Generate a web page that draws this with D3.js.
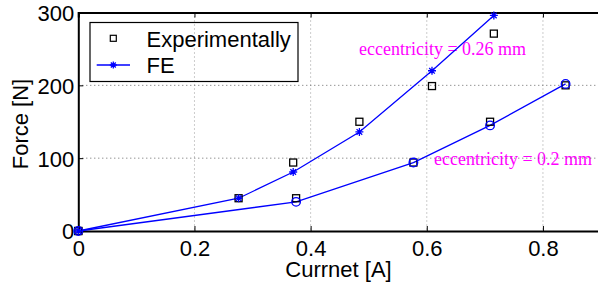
<!DOCTYPE html>
<html><head><meta charset="utf-8">
<script src="https://cdn.jsdelivr.net/npm/d3@7"></script>
<style>body{margin:0;background:#fff}svg{display:block}</style>
</head><body>
<script>
// Data
const xTicks = [0, 0.2, 0.4, 0.6, 0.8];
const yTicks = [0, 100, 200, 300];
const exp026Current = [0, 0.276, 0.37, 0.484, 0.609, 0.7155];
const exp026Force   = [0, 45, 94, 150, 199, 271];
const exp02Current  = [0, 0.375, 0.577, 0.709, 0.839];
const exp02Force    = [0, 45, 94, 150, 200];
const fe026Current  = [0, 0.276, 0.37, 0.484, 0.609, 0.7155];
const fe026Force    = [0, 45, 81, 136, 220, 296];
const fe02Current   = [0, 0.375, 0.577, 0.709, 0.839];
const fe02Force     = [0, 40, 94, 145, 202];
const legendLabels  = ["Experimentally", "FE"];
const annotations   = ["eccentricity = 0.26 mm", "eccentricity = 0.2 mm"];

const W = 598, H = 285;
const svg = d3.select("body").append("svg").attr("width", W).attr("height", H);
const x = d3.scaleLinear().domain([0, 0.9]).range([78.3, 601]);
const y = d3.scaleLinear().domain([0, 300]).range([231, 12.5]);
const sans = "'Liberation Sans', Arial, sans-serif";
const serif = "'Liberation Serif', 'Times New Roman', serif";
const blue = "#0000ff";
const fs = 22;

// annotations (under grid)
svg.selectAll("text.ann").data(annotations).join("text")
  .attr("class", "ann")
  .attr("font-family", serif).attr("font-size", 18).attr("fill", "#ff00ff")
  .attr("x", (d, i) => i === 0 ? 359 : 434)
  .attr("y", (d, i) => i === 0 ? 55 : 165)
  .text(d => d);

// grid
const g = svg.append("g");
g.selectAll("line.vg").data(xTicks.slice(1)).join("line")
  .attr("x1", d => x(d)).attr("x2", d => x(d))
  .attr("y1", y(300)).attr("y2", y(0))
  .attr("stroke", "#999").attr("stroke-width", 1).attr("stroke-dasharray", "1,3");
g.selectAll("line.hg").data(yTicks.slice(1, 3)).join("line")
  .attr("x1", x(0)).attr("x2", x(0.9))
  .attr("y1", d => y(d)).attr("y2", d => y(d))
  .attr("stroke", "#666").attr("stroke-width", 1).attr("stroke-dasharray", "1,3");

// axes
const xAxis = d3.axisBottom(x).tickValues(xTicks).tickSize(-5).tickPadding(11)
  .tickFormat(d => d === 0 ? "0" : d3.format(".1f")(d));
const gx = svg.append("g").attr("transform", `translate(0,${y(0)})`).call(xAxis);
const xTop = d3.axisTop(x).tickValues(xTicks).tickSize(-5).tickFormat("");
const gxt = svg.append("g").attr("transform", `translate(0,${y(300)})`).call(xTop);
const yAxis = d3.axisLeft(y).tickValues(yTicks).tickSize(-5).tickPadding(9);
const gy = svg.append("g").attr("transform", `translate(${x(0)},0)`).call(yAxis);
[gx, gxt, gy].forEach(a => {
  a.select(".domain").attr("stroke", "#000").attr("stroke-width", 2);
  a.selectAll(".tick line").attr("stroke", "#000").attr("stroke-width", 1);
  a.selectAll("text").attr("font-family", sans).attr("font-size", fs).attr("fill", "#000");
});
gx.selectAll(".tick text").attr("dy", "0.71em").attr("y", 9);
gy.selectAll(".tick text").attr("dy", "0.36em").attr("x", -4);

// axis labels
svg.append("text").attr("x", 338.5).attr("y", 277).attr("text-anchor", "middle")
  .attr("font-family", sans).attr("font-size", fs).text("Currnet [A]");
svg.append("text").attr("transform", "translate(28,124) rotate(-90)").attr("text-anchor", "middle")
  .attr("font-family", sans).attr("font-size", fs).text("Force [N]");

// lines
const line = d3.line().x(d => x(d[0])).y(d => y(d[1]));
const fe026 = fe026Current.map((c, i) => [c, fe026Force[i]]);
const fe02 = fe02Current.map((c, i) => [c, fe02Force[i]]);
const exp026 = exp026Current.map((c, i) => [c, exp026Force[i]]);
const exp02 = exp02Current.map((c, i) => [c, exp02Force[i]]);
[fe026, fe02].forEach(d => svg.append("path").datum(d).attr("d", line)
  .attr("fill", "none").attr("stroke", blue).attr("stroke-width", 1.3));

// experimental squares
svg.selectAll("rect.exp").data(exp026.concat(exp02)).join("rect")
  .attr("x", d => x(d[0]) - 3.5).attr("y", d => y(d[1]) - 3.5)
  .attr("width", 7).attr("height", 7)
  .attr("fill", "none").attr("stroke", "#000").attr("stroke-width", 1.3);

// stars
const starPath = (cx, cy, r) => {
  const a = r * 0.707;
  return `M${cx - r},${cy}L${cx + r},${cy}M${cx},${cy - r}L${cx},${cy + r}` +
    `M${cx - a},${cy - a}L${cx + a},${cy + a}M${cx - a},${cy + a}L${cx + a},${cy - a}`;
};
svg.selectAll("path.star").data(fe026).join("path")
  .attr("d", d => starPath(x(d[0]), y(d[1]), 4))
  .attr("stroke", blue).attr("stroke-width", 1.3).attr("fill", "none");
// circles
svg.selectAll("circle.fe").data(fe02).join("circle")
  .attr("cx", d => x(d[0])).attr("cy", d => y(d[1])).attr("r", 4.3)
  .attr("fill", "none").attr("stroke", blue).attr("stroke-width", 1.3);

// legend
const lg = svg.append("g");
lg.append("rect").attr("x", 90).attr("y", 22.5).attr("width", 208).attr("height", 59)
  .attr("fill", "none").attr("stroke", "#000").attr("stroke-width", 1.2);
lg.append("rect").attr("x", 113.3 - 3).attr("y", 38.3 - 3).attr("width", 6).attr("height", 6)
  .attr("fill", "none").attr("stroke", "#000").attr("stroke-width", 1.2);
lg.append("line").attr("x1", 96.7).attr("x2", 130).attr("y1", 65).attr("y2", 65)
  .attr("stroke", blue).attr("stroke-width", 1.3);
lg.append("path").attr("d", starPath(113.3, 65, 3.5)).attr("stroke", blue).attr("stroke-width", 1.3);
lg.selectAll("text").data(legendLabels).join("text")
  .attr("x", 146.5).attr("y", (d, i) => i === 0 ? 46.5 : 72.5)
  .attr("font-family", sans).attr("font-size", fs).text(d => d);
</script>
</body></html>
